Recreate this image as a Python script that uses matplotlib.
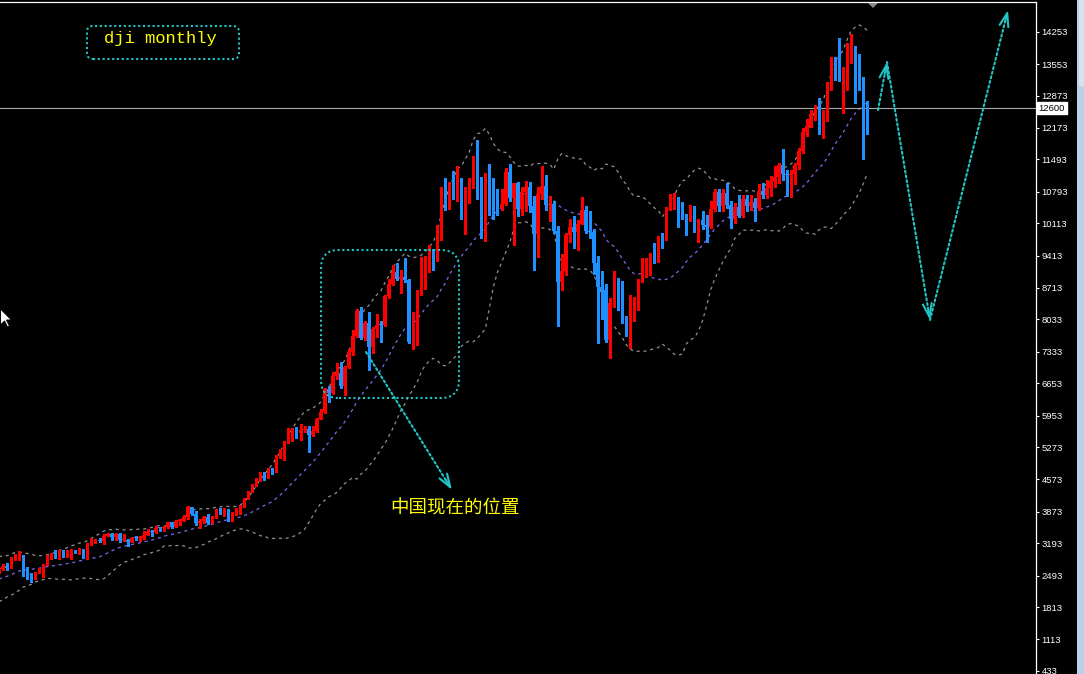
import numpy as np
import pandas as pd
import matplotlib
matplotlib.use("Agg")
import matplotlib.pyplot as plt
from matplotlib.patches import FancyBboxPatch, Polygon, Rectangle
from matplotlib.transforms import IdentityTransform, blended_transform_factory

plt.rcParams['font.family'] = ['Liberation Sans', 'Noto Sans CJK SC', 'DejaVu Sans']

# ---------------- data: DJI monthly, Jan 1990 .. Feb 2008 ----------------
# closes of 1988-1989, only used to warm up the Bollinger bands (off-screen)
prior_close = [1958, 2072, 1988, 2032, 2031, 2142, 2129, 2032, 2113, 2149, 2115, 2169,
               2342, 2258, 2294, 2419, 2480, 2440, 2661, 2737, 2693, 2645, 2706, 2753]

open_px = [
    2753, 2591, 2627, 2707, 2657, 2877, 2881, 2905, 2615, 2453, 2442, 2560,          # 1990
    2634, 2736, 2882, 2914, 2888, 3028, 2907, 3025, 3044, 3017, 3069, 2895,          # 1991
    3169, 3224, 3268, 3236, 3359, 3397, 3319, 3394, 3257, 3272, 3226, 3306,          # 1992
    3301, 3310, 3371, 3435, 3428, 3527, 3516, 3540, 3651, 3555, 3681, 3684,          # 1993
    3754, 3978, 3832, 3636, 3682, 3758, 3625, 3765, 3913, 3843, 3908, 3739,          # 1994
    3834, 3844, 4011, 4158, 4321, 4465, 4556, 4709, 4611, 4789, 4756, 5075,          # 1995
    5117, 5395, 5486, 5587, 5569, 5643, 5655, 5529, 5616, 5882, 6029, 6522,          # 1996
    6448, 6813, 6878, 6584, 7009, 7331, 7673, 8223, 7622, 7945, 7442, 7823,          # 1997
    7908, 7907, 8546, 8800, 9063, 8900, 8952, 8883, 7539, 7843, 8592, 9117,          # 1998
    9181, 9359, 9307, 9786, 10789, 10560, 10971, 10655, 10829, 10337, 10729, 10878,  # 1999
    11497, 10941, 10128, 10922, 10734, 10522, 10448, 10522, 11215, 10651, 10971, 10415,  # 2000
    10788, 10887, 10495, 9879, 10735, 10912, 10502, 10523, 9950, 8848, 9075, 9852,   # 2001
    10022, 9920, 10106, 10404, 9946, 9925, 9243, 8737, 8664, 7592, 8397, 8896,       # 2002
    8342, 8054, 7891, 7992, 8480, 8850, 8985, 9234, 9416, 9275, 9801, 9782,          # 2003
    10454, 10488, 10584, 10358, 10226, 10188, 10435, 10140, 10174, 10080, 10027, 10428,  # 2004
    10783, 10490, 10766, 10504, 10193, 10467, 10275, 10641, 10482, 10569, 10440, 10806,  # 2005
    10718, 10865, 10993, 11109, 11367, 11168, 11150, 11186, 11381, 11679, 12081, 12222,  # 2006
    12463, 12622, 12269, 12354, 13063, 13628, 13409, 13212, 13358, 13896, 13930, 13372,  # 2007
    13265, 12650]                                                                     # 2008

high_px = [
    2811, 2660, 2755, 2766, 2898, 2955, 3024, 2940, 2690, 2560, 2580, 2667,
    2750, 2934, 2990, 3040, 3040, 3057, 3040, 3070, 3055, 3094, 3077, 3190,
    3296, 3290, 3300, 3385, 3420, 3420, 3410, 3405, 3395, 3290, 3320, 3340,
    3340, 3460, 3495, 3480, 3560, 3555, 3570, 3660, 3655, 3700, 3720, 3800,
    3990, 3985, 3900, 3720, 3780, 3815, 3790, 3935, 3955, 3960, 3930, 3870,
    3950, 4030, 4180, 4330, 4480, 4600, 4730, 4730, 4810, 4810, 5100, 5230,
    5400, 5680, 5680, 5700, 5780, 5730, 5720, 5720, 5900, 6090, 6560, 6590,
    6890, 7080, 7110, 7020, 7400, 7800, 8260, 8300, 8000, 8200, 7860, 8150,
    8000, 8570, 8900, 9200, 9250, 9100, 9370, 8900, 8200, 8660, 9380, 9400,
    9650, 9560, 10080, 10900, 11100, 11000, 11250, 11350, 11100, 10900, 11100, 11570,
    11910, 11120, 11200, 11400, 11100, 10860, 10860, 11310, 11400, 10990, 11000, 10900,
    11030, 11000, 10700, 10900, 11350, 11150, 10700, 10600, 10050, 9450, 9900, 10200,
    10260, 10190, 10670, 10480, 10380, 9990, 9400, 9080, 8800, 8500, 9070, 8930,
    8870, 8110, 8550, 8520, 8900, 9350, 9350, 9470, 9690, 9840, 9900, 10460,
    10750, 10760, 10680, 10570, 10310, 10510, 10480, 10200, 10370, 10280, 10590, 10850,
    10860, 10850, 10980, 10600, 10550, 10720, 10720, 10720, 10720, 10650, 10950, 10990,
    11050, 11140, 11340, 11420, 11710, 11270, 11260, 11420, 11740, 12170, 12360, 12550,
    12660, 12830, 12560, 13160, 13700, 13710, 14120, 13500, 14000, 14200, 13950, 13780,
    13280, 12760]

low_px = [
    2543, 2545, 2620, 2611, 2650, 2836, 2840, 2483, 2430, 2365, 2420, 2540,
    2470, 2720, 2855, 2875, 2860, 2895, 2900, 2858, 2985, 2960, 2865, 2855,
    3160, 3190, 3210, 3180, 3340, 3270, 3270, 3230, 3250, 3136, 3210, 3260,
    3240, 3290, 3370, 3360, 3420, 3450, 3460, 3530, 3530, 3550, 3590, 3670,
    3710, 3800, 3590, 3520, 3630, 3610, 3620, 3730, 3825, 3780, 3670, 3675,
    3800, 3830, 3980, 4140, 4300, 4440, 4540, 4560, 4600, 4700, 4740, 5040,
    5000, 5370, 5400, 5460, 5420, 5590, 5170, 5520, 5590, 5880, 6010, 6240,
    6420, 6740, 6560, 6390, 6980, 7270, 7660, 7600, 7580, 6940, 7310, 7650,
    7540, 7880, 8490, 8770, 8880, 8610, 8850, 7530, 7400, 7470, 8560, 8690,
    9050, 9100, 9300, 9750, 10400, 10420, 10640, 10600, 10200, 9880, 10560, 10870,
    10640, 9800, 9730, 10300, 10200, 10300, 10400, 10500, 10600, 9650, 10270, 10300,
    10380, 10360, 9100, 9390, 10630, 10400, 10170, 9900, 7900, 8660, 8990, 9700,
    9580, 9540, 10100, 9900, 9800, 9020, 7530, 8040, 7550, 7200, 8300, 8230,
    7950, 7670, 7420, 7990, 8230, 8850, 8950, 9000, 9250, 9270, 9580, 9750,
    10390, 10410, 10040, 10200, 9850, 10160, 9920, 9710, 9980, 9710, 10000, 10380,
    10370, 10370, 10450, 10010, 10120, 10250, 10250, 10380, 10400, 10150, 10400, 10650,
    10650, 10700, 10900, 10990, 11050, 10700, 10680, 10970, 11280, 11640, 11990, 12200,
    12350, 12040, 11950, 12330, 12990, 13200, 13180, 12500, 13000, 13570, 12720, 13000,
    11500, 12050]

close_px = [
    2591, 2627, 2707, 2657, 2877, 2881, 2905, 2615, 2453, 2442, 2560, 2634,
    2736, 2882, 2914, 2888, 3028, 2907, 3025, 3044, 3017, 3069, 2895, 3169,
    3224, 3268, 3236, 3359, 3397, 3319, 3394, 3257, 3272, 3226, 3306, 3301,
    3310, 3371, 3435, 3428, 3527, 3516, 3540, 3651, 3555, 3681, 3684, 3754,
    3978, 3832, 3636, 3682, 3758, 3625, 3765, 3913, 3843, 3908, 3739, 3834,
    3844, 4011, 4158, 4321, 4465, 4556, 4709, 4611, 4789, 4756, 5075, 5117,
    5395, 5486, 5587, 5569, 5643, 5655, 5529, 5616, 5882, 6029, 6522, 6448,
    6813, 6878, 6584, 7009, 7331, 7673, 8223, 7622, 7945, 7442, 7823, 7908,
    7907, 8546, 8800, 9063, 8900, 8952, 8883, 7539, 7843, 8592, 9117, 9181,
    9359, 9307, 9786, 10789, 10560, 10971, 10655, 10829, 10337, 10729, 10878, 11497,
    10941, 10128, 10922, 10734, 10522, 10448, 10522, 11215, 10651, 10971, 10415, 10788,
    10887, 10495, 9879, 10735, 10912, 10502, 10523, 9950, 8848, 9075, 9852, 10022,
    9920, 10106, 10404, 9946, 9925, 9243, 8737, 8664, 7592, 8397, 8896, 8342,
    8054, 7891, 7992, 8480, 8850, 8985, 9234, 9416, 9275, 9801, 9782, 10454,
    10488, 10584, 10358, 10226, 10188, 10435, 10140, 10174, 10080, 10027, 10428, 10783,
    10490, 10766, 10504, 10193, 10467, 10275, 10641, 10482, 10569, 10440, 10806, 10718,
    10865, 10993, 11109, 11367, 11168, 11150, 11186, 11381, 11679, 12081, 12222, 12463,
    12622, 12269, 12354, 13063, 13628, 13409, 13212, 13358, 13896, 13930, 13372, 13265,
    12650, 12600]

price_ticks = [14253, 13553, 12873, 12173, 11493, 10793, 10113, 9413, 8713, 8033,
               7333, 6653, 5953, 5273, 4573, 3873, 3193, 2493, 1813, 1113, 433]
current_price = 12600
title_text = "dji monthly"
note_text = "中国现在的位置"

# ---------------- figure ----------------
W, H = 1084, 674
fig = plt.figure(figsize=(W / 100, H / 100), dpi=100, facecolor="black")
ax = fig.add_axes([0, 0, 1036 / W, 672 / H], facecolor="black")

n = len(close_px)
idx = np.arange(n)
o = np.array(open_px, float)
h = np.array(high_px, float)
l = np.array(low_px, float)
c = np.array(close_px, float)

# Bollinger bands (20, 2)
all_close = pd.Series(prior_close + close_px, dtype=float)
mid = all_close.rolling(20).mean().to_numpy()[len(prior_close):]
sd = all_close.rolling(20).std(ddof=0).to_numpy()[len(prior_close):]
upper = mid + 2 * sd
lower = mid - 2 * sd

ax.plot(idx, upper, color="#909090", lw=0.9, ls=(0, (2.5, 3)), zorder=1)
ax.plot(idx, lower, color="#909090", lw=0.9, ls=(0, (2.5, 3)), zorder=1)
ax.plot(idx, mid, color="#7B68EE", lw=0.9, ls=(0, (2.5, 3)), zorder=1)

# candles
bull = c >= o
cols = np.where(bull, "#FF0000", "#1E90FF")
ax.vlines(idx, l, h, colors=cols, lw=0.8, antialiased=False, zorder=2)
bottoms = np.minimum(o, c)
heights = np.maximum(np.abs(c - o), 22)
ax.bar(idx, heights, bottom=bottoms, width=0.78, color=cols, linewidth=0,
       antialiased=False, zorder=3)

# current price line
ax.axhline(current_price, color="#A8A8A8", lw=0.8, zorder=1.5)

# scale: 4.02 px per bar, Jan 1990 centred at x = -5 px
px_per_bar = 4.02
x0 = -5.0
ax.set_xlim((0 - x0) / px_per_bar, (1036 - x0) / px_per_bar)
ax.set_ylim(366, 14895)

ax.set_xticks([])
ax.yaxis.tick_right()
ax.set_yticks(price_ticks)
ax.set_yticklabels([str(v) for v in price_ticks])
ax.tick_params(axis="y", colors="white", length=2.4, width=0.8, pad=1.5,
               labelsize=6.8, labelcolor="white")
for s in ["left", "bottom"]:
    ax.spines[s].set_visible(False)
for s in ["right", "top"]:
    ax.spines[s].set_color("white")
    ax.spines[s].set_linewidth(0.9)

trans = blended_transform_factory(ax.transAxes, ax.transData)
ax.text(1.0025, current_price, str(current_price), transform=trans, ha="left", va="center",
        fontsize=6.8, color="black", zorder=10,
        bbox=dict(boxstyle="square,pad=0.18", fc="white", ec="white"))

# ---------------- annotations (reference pixel positions, y from top) ----------------
def fp(x, y):
    return (x, H - y)

cyan = "#22C4C4"
dot = (0, (1, 1.3))
ident = IdentityTransform()

box1 = FancyBboxPatch(fp(87, 59), 152, 33, boxstyle="round,pad=0,rounding_size=6",
                      transform=ident, fill=False, ec=cyan, lw=1.5, ls=dot, zorder=6)
fig.patches.append(box1)
box2 = FancyBboxPatch(fp(321, 398), 138, 148, boxstyle="round,pad=0,rounding_size=18",
                      transform=ident, fill=False, ec=cyan, lw=1.5, ls=dot, zorder=6)
fig.patches.append(box2)

fig.text(104 / W, 1 - 43 / H, title_text, color="#FFFF00", fontsize=12.3,
         family="Liberation Mono", ha="left", va="baseline")
fig.text(390 / W, 1 - 508 / H, note_text, color="#FFFF00", fontsize=13.3,
         family=["Noto Sans CJK SC", "DejaVu Sans"], ha="left", va="center")


def arrow(start, end):
    s = np.array(start, float)
    e = np.array(end, float)
    d = (e - s) / np.hypot(*(e - s))
    back = e - d * 12
    ax.annotate("", xy=fp(*back), xytext=fp(*s), xycoords="figure pixels",
                textcoords="figure pixels",
                arrowprops=dict(arrowstyle="-", color=cyan, lw=1.5, ls=dot,
                                shrinkA=0, shrinkB=0), zorder=6)
    ax.annotate("", xy=fp(*e), xytext=fp(*back), xycoords="figure pixels",
                textcoords="figure pixels",
                arrowprops=dict(arrowstyle="->,head_length=0.95,head_width=0.32", color=cyan,
                                lw=1.5, shrinkA=0, shrinkB=0), zorder=6)


arrow((366, 352), (452, 490))
arrow((878, 110), (887, 62))
arrow((887, 62), (930, 320))
arrow((930, 320), (1008, 10))

# chart-shift marker at the top
fig.patches.append(Polygon([fp(868, 3), fp(878, 3), fp(873, 8)], closed=True,
                           transform=ident, fc="#8A8A8A", ec="none", zorder=7))

# mouse cursor
tip = np.array([0.5, 309.0])
cur = [(0, 0), (0, 16), (4, 12), (7, 18), (9, 17), (6, 11), (11, 11)]
fig.patches.append(Polygon([fp(*(tip + np.array(p))) for p in cur], closed=True,
                           transform=ident, fc="white", ec="black", lw=0.7, zorder=8))

# window scrollbar strip at the right edge
fig.patches.append(Rectangle(fp(1077, H), 7, H, transform=ident, fc="#B9D1EA",
                             ec="none", zorder=0))
fig.patches.append(Rectangle(fp(1079, 86), 5, 86, transform=ident, fc="#D5E2F0",
                             ec="none", zorder=0))

fig.savefig("out.png", dpi=100, facecolor="black")
